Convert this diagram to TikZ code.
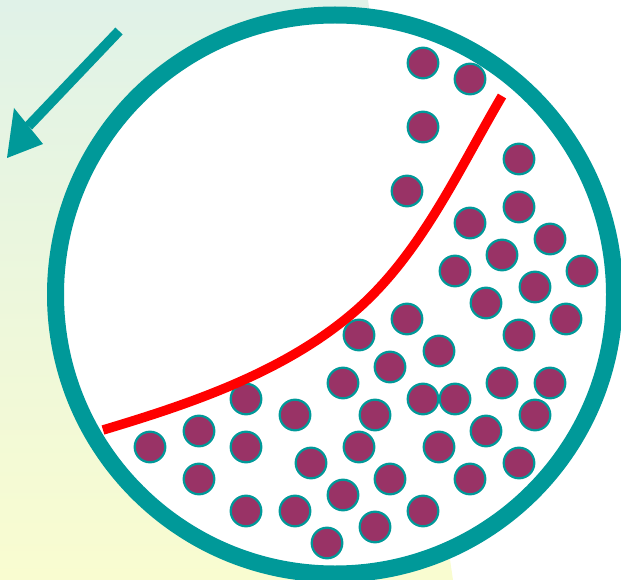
\documentclass[tikz,border=0pt]{standalone}
\begin{document}
\begin{tikzpicture}[x=1pt,y=-1pt,
  ring/.style={draw=teal0,line width=17pt},
  particle/.style={draw=teal0,fill=plum0,line width=2.2pt},
  cut/.style={draw=red0,line width=9.5pt},
  flow/.style={draw=teal0,line width=10pt},
  flowhead/.style={fill=teal0}]
\definecolor{teal0}{HTML}{009999}
\definecolor{plum0}{HTML}{993366}
\definecolor{red0}{HTML}{FF0000}
\definecolor{bgtop}{HTML}{E0F2E8}
\definecolor{bgbot}{HTML}{F9FCD0}
\useasboundingbox (0,0) rectangle (621,580);
\begin{scope}
\clip (0,0) rectangle (621,580);
\shade[top color=bgtop,bottom color=bgbot] (0,0) -- (368,0) -- (453,580) -- (0,580) -- cycle;
\fill[white] (335,294.5) circle (280);
\draw[ring] (335,294.5) circle (279.5);
\end{scope}
% particles
\foreach \px/\py in {423/63,470/79,423/127,519/159,407/191,519/207,470/223,550/239,502/255,455/271,582/271,535/287,486/303,566/319,407/319,359/335,519/335,439/351,390/367,343/383,502/383,550/383,246/399,423/399,455/399,295/415,375/415,535/415,199/431,486/431,150/447,246/447,359/447,439/447,311/463,519/463,199/479,390/479,470/479,343/495,246/511,295/511,423/511,375/527,327/543}
  \draw[particle] (\px,\py) circle (15.3);
% red curve
\coordinate (c0) at (103,430);
\coordinate (c1) at (353,313);
\coordinate (c2) at (502,96);
\draw[cut] (c0) .. controls (191,403.6) and (283,372.6) .. (c1)
  .. controls (420,256) and (457.4,171.9) .. (c2);
% arrow
\coordinate (as) at (119,31);
\coordinate (ab) at (28.5,126);
\coordinate (at) at (7,158);
\draw[flow] (as) -- (ab);
\fill[flowhead] (14,108) -- (at) -- (43,144) -- cycle;
\end{tikzpicture}
\end{document}
